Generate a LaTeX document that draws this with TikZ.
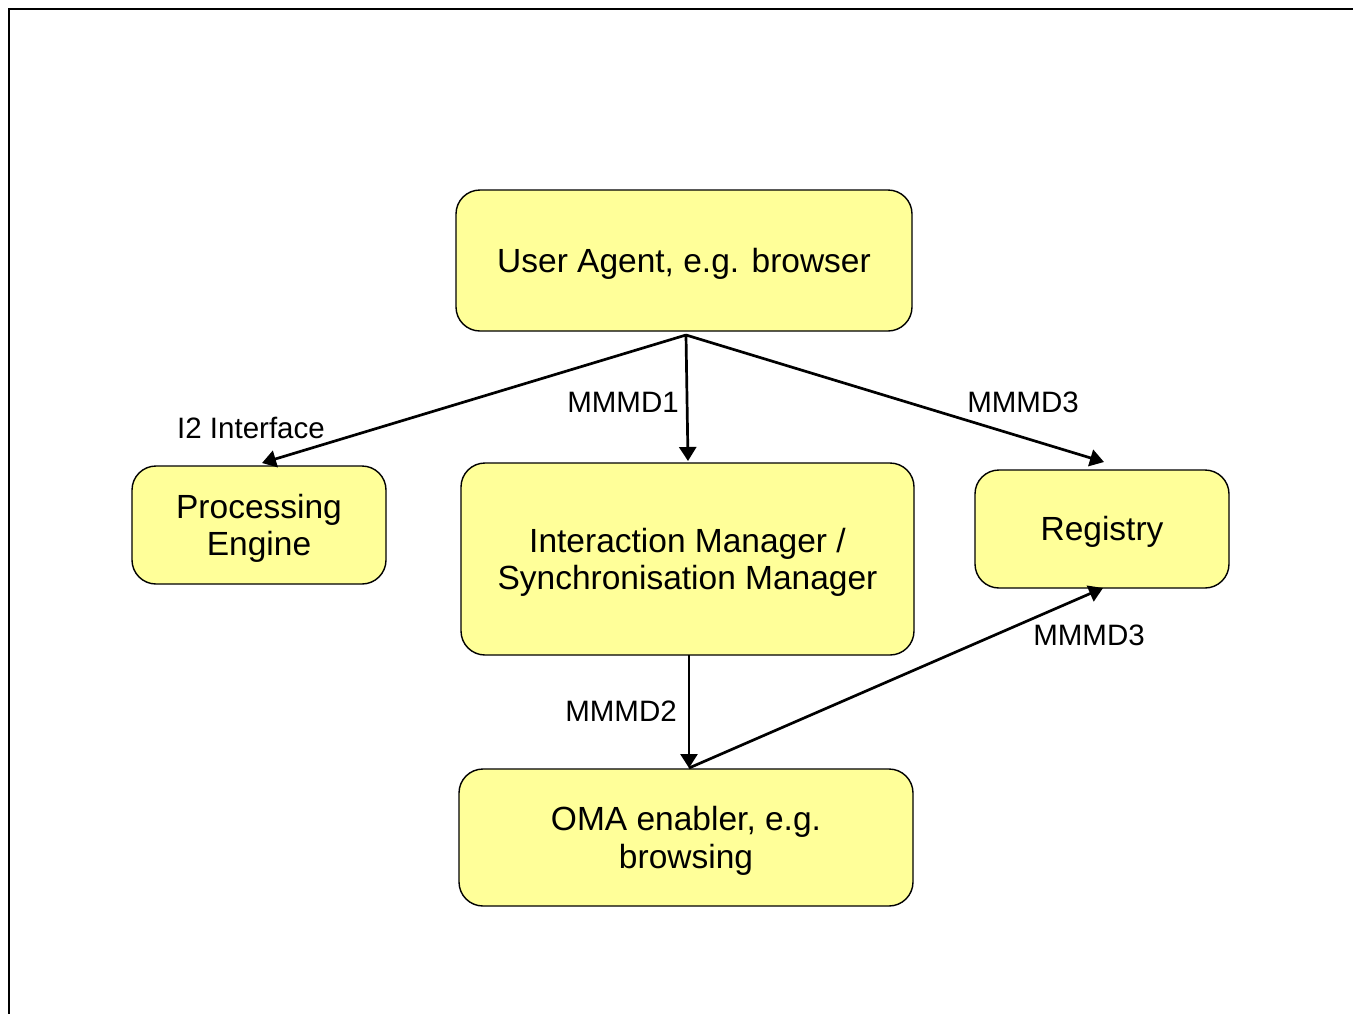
\documentclass[tikz,border=0pt]{standalone}
\usepackage{fontspec}
\setmainfont{Liberation Sans}
\usetikzlibrary{arrows.meta}
\definecolor{boxfill}{RGB}{255,255,153}
\newcommand\dn[1]{\raisebox{-3pt}[\height][\depth]{#1}}
\begin{document}
\begin{tikzpicture}[x=1pt,y=-1pt,
  box/.style={draw=black,line width=1.4pt,fill=boxfill,rounded corners=24pt,align=center,
    inner sep=0pt,font=\fontsize{33.5}{37}\selectfont},
  conn/.style={line width=2.7pt,-{Triangle[length=14pt,width=17pt]}},
  lbl/.style={font=\fontsize{29.5}{32}\selectfont,inner sep=0pt}]
\useasboundingbox (0,0) rectangle (1353,1013);
\draw[line width=2.2pt] (9,1030) -- (9,9) -- (1370,9);
\node[box,minimum width=456pt,minimum height=141pt] (ua) at (684,260.5) {\dn{User Agent, e.g. browser}};
\node[box,minimum width=254pt,minimum height=118pt] (pe) at (259,525) {\dn{Processing}\\\dn{Engine}};
\node[box,minimum width=453pt,minimum height=192pt] (im) at (687.5,559) {\dn{Interaction Manager /}\\\dn{Synchronisation Manager}};
\node[box,minimum width=254pt,minimum height=118pt] (reg) at (1102,529) {\dn{Registry}};
\node[box,minimum width=454pt,minimum height=137pt,font=\fontsize{33.5}{38}\selectfont] (oma) at (686,837.5) {\dn{OMA enabler, e.g.}\\\dn{browsing}};
\coordinate (src) at (686,335);
\coordinate (peT) at (262,463);
\coordinate (imT) at (688,461);
\coordinate (regT) at (1104,462);
\coordinate (imB) at (689,655);
\coordinate (omaT) at (689,768);
\coordinate (regB) at (1103,588);
\draw[conn] (src) -- (peT);
\draw[conn] (src) -- (imT);
\draw[conn] (src) -- (regT);
\draw[conn] (imB) -- (omaT);
\draw[conn] (omaT) -- (regB);
\node[lbl] (l1) at (251,428) {I2 Interface};
\node[lbl] (l2) at (623,402) {MMMD1};
\node[lbl] (l3) at (1023,402) {MMMD3};
\node[lbl] (l4) at (621,711) {MMMD2};
\node[lbl] (l5) at (1089,635) {MMMD3};
\end{tikzpicture}
\end{document}
